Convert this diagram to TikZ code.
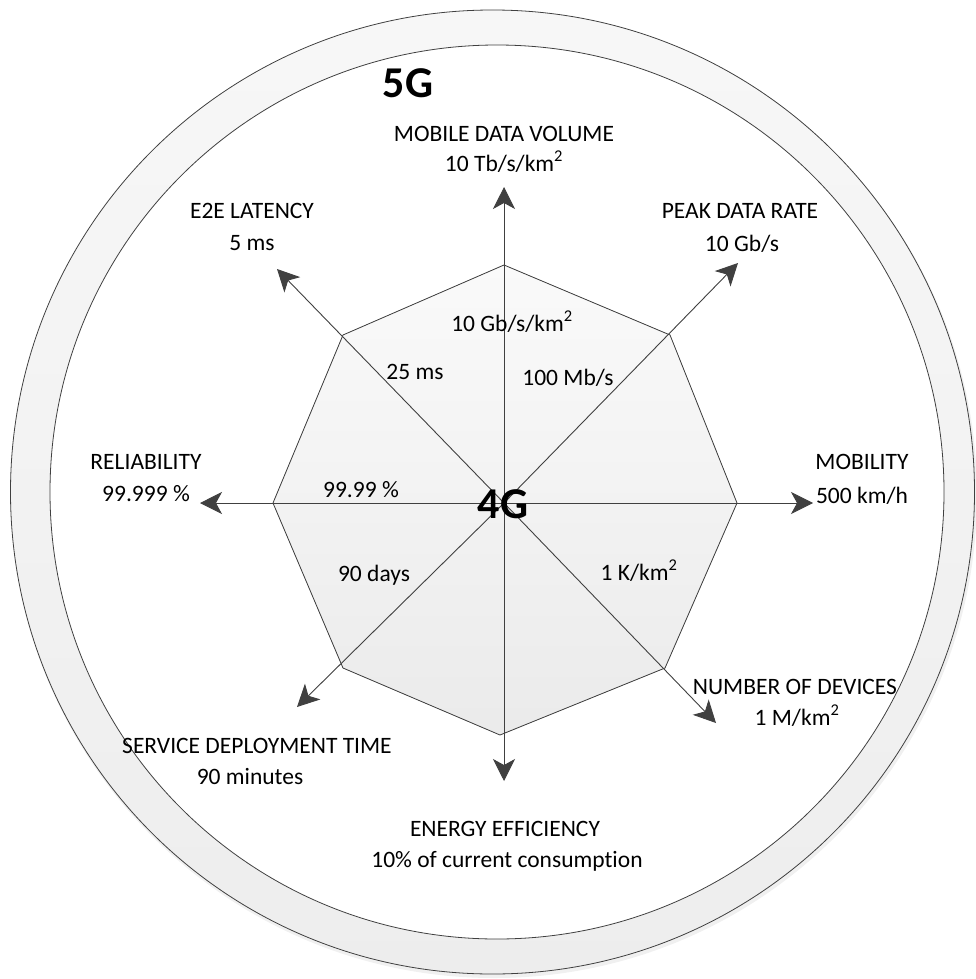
\documentclass[tikz,border=0pt]{standalone}
\usepackage{fontspec}
\setmainfont{Carlito}[Ligatures=NoCommon]
\usetikzlibrary{arrows.meta}
\definecolor{linegray}{HTML}{404040}
\begin{document}
\begin{tikzpicture}[x=1pt,y=-1pt,
  lbl/.style={font=\fontsize{23.5}{32}\selectfont, anchor=base, inner sep=0pt},
  gen/.style={font=\fontsize{44}{44}\selectfont\bfseries, anchor=base, inner sep=0pt},
  axis/.style={draw=linegray, line width=0.9pt,
    -{Stealth[length=22pt,width=22pt,inset=6pt,fill=linegray]}},
  octa/.style={draw=linegray, line width=0.8pt, top color=white!98!black, bottom color=white!92!black},
  ring/.style={draw=linegray, line width=0.8pt, top color=white!97!black, bottom color=white!93!black},
]
\useasboundingbox (0,0) rectangle (976,979);

% 5G ring with a faint shadow
\fill[black, opacity=0.06] (494,495) circle (483);
\draw[ring] (492.5,492) circle (482);
\draw[linegray, line width=0.8pt, fill=white] (497,492) circle (447);

% 4G octagon
\coordinate (c) at (504,503);
\coordinate (vN) at (504,265);
\coordinate (vNE) at (670,335);
\coordinate (vE) at (737,503);
\coordinate (vSE) at (665,668);
\coordinate (vS) at (500,735);
\coordinate (vSW) at (343,668);
\coordinate (vW) at (273,503);
\coordinate (vNW) at (343,335);
\filldraw[octa] (vN) -- (vNE) -- (vE) -- (vSE) -- (vS) -- (vSW) -- (vW) -- (vNW) -- cycle;

% axes
\coordinate (tN) at (504,187);
\coordinate (tNE) at (738,263);
\coordinate (tE) at (813,503);
\coordinate (tSE) at (716,723);
\coordinate (tS) at (504,781);
\coordinate (tSW) at (297,707);
\coordinate (tW) at (200,503);
\coordinate (tNW) at (277,269);
\foreach \t in {tN,tNE,tE,tSE,tS,tSW,tW,tNW}
  \draw[axis] (c) -- (\t);

% generation labels
\node[gen] (g5) at (408,98) {5G};
\node[gen] (g4) at (503,518) {4G};

% 5G targets
\node[lbl] (mdv1) at (504,141) {MOBILE DATA VOLUME};
\node[lbl] (mdv2) at (504,171) {10 Tb/s/km\textsuperscript{2}};
\node[lbl] (pdr1) at (740,218) {PEAK DATA RATE};
\node[lbl] (pdr2) at (742,251) {10 Gb/s};
\node[lbl] (lat1) at (252,218) {E2E LATENCY};
\node[lbl] (lat2) at (252,250) {5 ms};
\node[lbl] (rel1) at (146,469) {RELIABILITY};
\node[lbl] (rel2) at (146,501) {99.999 \%};
\node[lbl] (mob1) at (862,469) {MOBILITY};
\node[lbl] (mob2) at (862,503) {500 km/h};
\node[lbl] (dev1) at (795,694) {NUMBER OF DEVICES};
\node[lbl] (dev2) at (797,725) {1 M/km\textsuperscript{2}};
\node[lbl] (sdt1) at (257,753) {SERVICE DEPLOYMENT TIME};
\node[lbl] (sdt2) at (250,784) {90 minutes};
\node[lbl] (ene1) at (505,836) {ENERGY EFFICIENCY};
\node[lbl] (ene2) at (507,867) {10\% of current consumption};

% 4G values
\node[lbl] (v4mdv) at (512,331) {10 Gb/s/km\textsuperscript{2}};
\node[lbl] (v4pdr) at (568,385) {100 Mb/s};
\node[lbl] (v4lat) at (415,379) {25 ms};
\node[lbl] (v4rel) at (361,497) {99.99 \%};
\node[lbl] (v4sdt) at (374,581) {90 days};
\node[lbl] (v4dev) at (639,580) {1 K/km\textsuperscript{2}};
\end{tikzpicture}
\end{document}
